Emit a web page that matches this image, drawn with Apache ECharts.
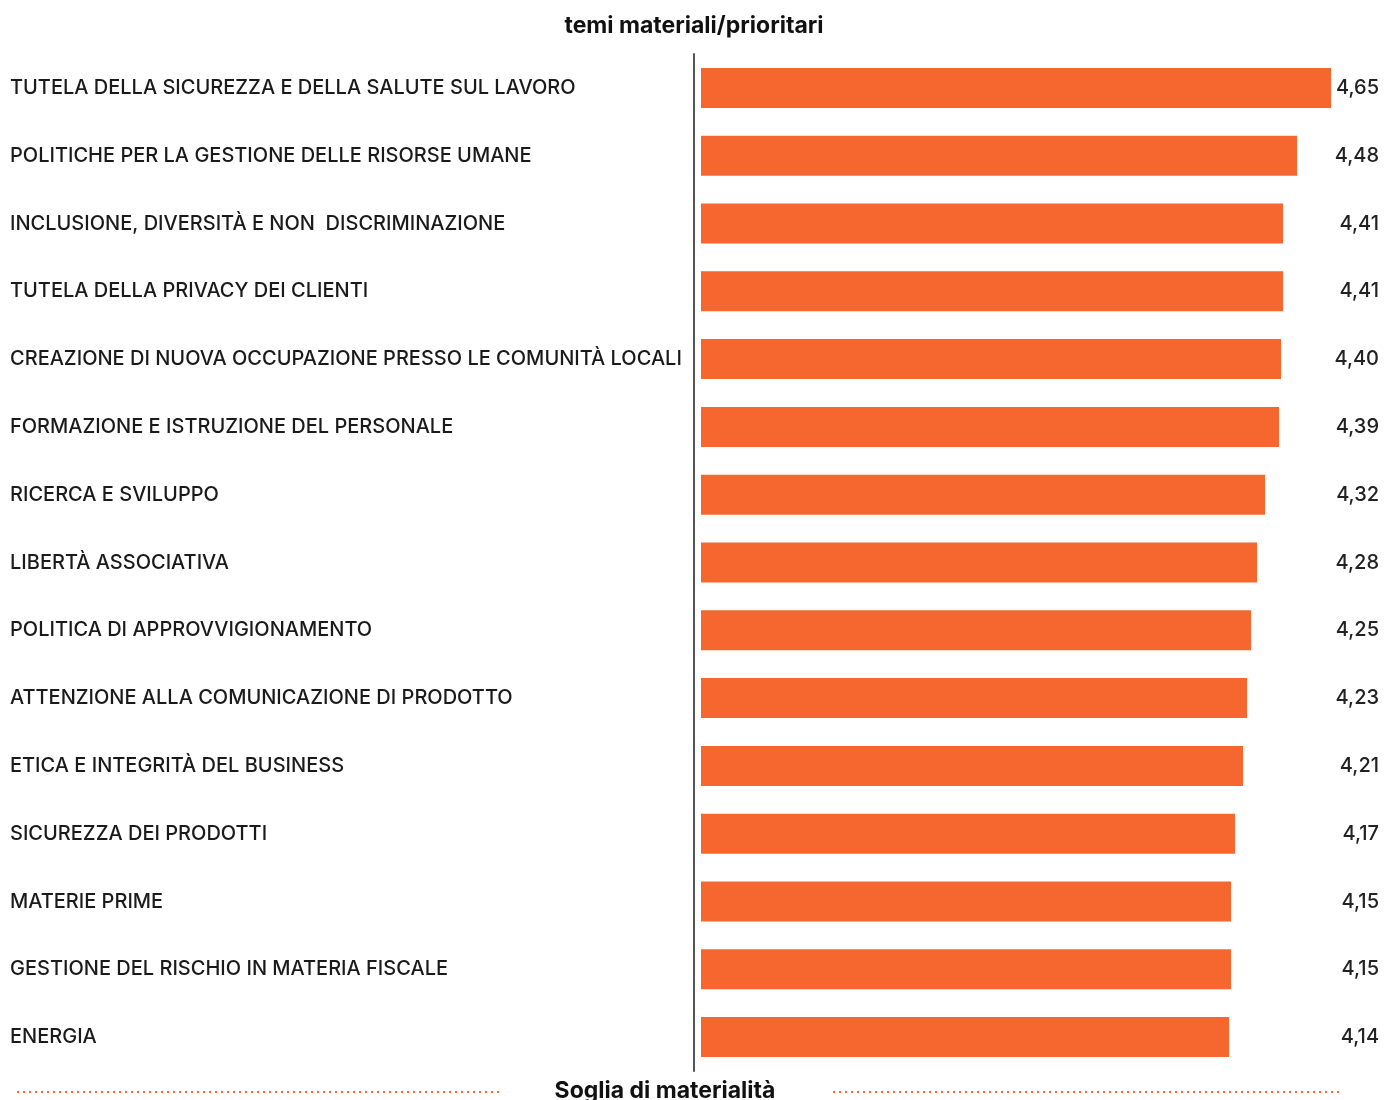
<!DOCTYPE html>
<html>
<head>
<meta charset="utf-8">
<script src="https://cdn.jsdelivr.net/npm/echarts@6/dist/echarts.min.js"></script>
<style>
  html, body { margin: 0; padding: 0; background: #fff; }
  #chart { width: 1388px; height: 1100px; }
</style>
</head>
<body>
<div id="chart"></div>
<script>
// temi materiali, dall'alto verso il basso
var temi = [
    'TUTELA DELLA SICUREZZA E DELLA SALUTE SUL LAVORO',
    'POLITICHE PER LA GESTIONE DELLE RISORSE UMANE',
    'INCLUSIONE, DIVERSITÀ E NON  DISCRIMINAZIONE',
    'TUTELA DELLA PRIVACY DEI CLIENTI',
    'CREAZIONE DI NUOVA OCCUPAZIONE PRESSO LE COMUNITÀ LOCALI',
    'FORMAZIONE E ISTRUZIONE DEL PERSONALE',
    'RICERCA E SVILUPPO',
    'LIBERTÀ ASSOCIATIVA',
    'POLITICA DI APPROVVIGIONAMENTO',
    'ATTENZIONE ALLA COMUNICAZIONE DI PRODOTTO',
    'ETICA E INTEGRITÀ DEL BUSINESS',
    'SICUREZZA DEI PRODOTTI',
    'MATERIE PRIME',
    'GESTIONE DEL RISCHIO IN MATERIA FISCALE',
    'ENERGIA'
];
var punteggi = [4.65, 4.48, 4.41, 4.41, 4.40, 4.39, 4.32, 4.28, 4.25, 4.23, 4.21, 4.17, 4.15, 4.15, 4.14];

var titolo = 'temi materiali/prioritari';
var soglia = 'Soglia di materialità';

var arancio = '#f5672f';

// etichette dei valori con la virgola
var valoriTesto = punteggi.map(function (v) {
    return v.toFixed(2).replace('.', ',');
});

var oBar = echarts.init(document.getElementById('chart'));

var opt = {
    backgroundColor: '#fff',
    animation: false,
    title: {
        text: titolo,
        left: 'center',
        top: 10,
        textStyle: {
            fontFamily: 'Inter',
            fontWeight: 'bold',
            fontSize: 23,
            color: '#111'
        }
    },
    grid: {
        left: 701,
        right: 43,
        top: 54,
        bottom: 29
    },
    xAxis: {
        type: 'value',
        min: 1.5,
        max: 4.72,
        show: false
    },
    yAxis: [{
        type: 'category',
        inverse: true,
        data: temi,
        offset: 7,
        axisLine: { show: true, lineStyle: { color: '#555', width: 2 } },
        axisTick: { show: false },
        axisLabel: {
            align: 'left',
            margin: 684,
            fontFamily: 'Inter',
            fontWeight: 500,
            fontSize: 20,
            color: '#1a1a1a'
        }
    }, {
        type: 'category',
        inverse: true,
        position: 'right',
        data: valoriTesto,
        axisLine: { show: false },
        axisTick: { show: false },
        axisLabel: {
            align: 'right',
            margin: 34,
            fontFamily: 'Inter',
            fontWeight: 500,
            fontSize: 20,
            color: '#222'
        }
    }],
    series: [{
        type: 'bar',
        data: punteggi,
        barWidth: 40,
        itemStyle: { color: arancio },
        silent: true
    }],
    graphic: [
        {
            type: 'line',
            shape: { x1: 17, y1: 1092, x2: 500, y2: 1092 },
            style: { stroke: arancio, lineWidth: 2, lineDash: [2, 4] }
        },
        {
            type: 'line',
            shape: { x1: 833, y1: 1092, x2: 1340, y2: 1092 },
            style: { stroke: arancio, lineWidth: 2, lineDash: [2, 4] }
        },
        {
            type: 'text',
            x: 665,
            y: 1091,
            style: {
                text: soglia,
                x: 0,
                y: 0,
                align: 'center',
                verticalAlign: 'middle',
                fontFamily: 'Inter',
                fontWeight: 'bold',
                fontSize: 23,
                fill: '#111'
            }
        }
    ]
};

oBar.setOption(opt);
</script>
</body>
</html>
